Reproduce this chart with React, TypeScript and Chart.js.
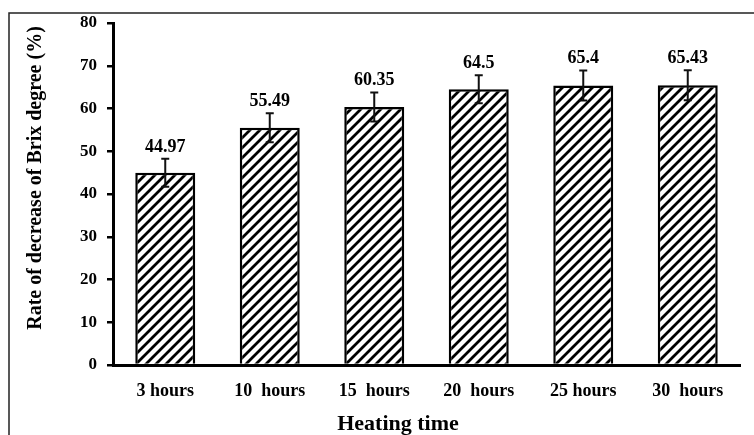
import React, { useEffect, useRef } from 'react';
import { Chart, registerables } from 'chart.js';

Chart.register(...registerables);

// Heating time categories and measured decrease of Brix degree
const categories = ['3 hours', '10  hours', '15  hours', '20  hours', '25 hours', '30  hours'];
const rates = [44.97, 55.49, 60.35, 64.5, 65.4, 65.43];
const errors = [3.3, 3.4, 3.4, 3.3, 3.5, 3.5];
const yMin = 0;
const yMax = 80;
const yStep = 10;
const yTitle = 'Rate of decrease of Brix degree (%)';
const xTitle = 'Heating time';

const FONT = "'Liberation Serif', 'Times New Roman', serif";

// Diagonal "/" hatch fill for the bars
function makeHatch(): CanvasPattern | string {
  const s = 10;
  const c = document.createElement('canvas');
  c.width = s;
  c.height = s;
  const g = c.getContext('2d');
  if (!g) return '#fff';
  g.fillStyle = '#fff';
  g.fillRect(0, 0, s, s);
  g.strokeStyle = '#000';
  g.lineWidth = 2.8;
  g.beginPath();
  for (const off of [-s, 0, s]) {
    g.moveTo(off - 1, s + 1);
    g.lineTo(off + s + 1, -1);
  }
  g.stroke();
  const p = g.createPattern(c, 'repeat');
  return p || '#fff';
}

const errorBarsAndLabels = {
  id: 'errorBarsAndLabels',
  afterDatasetsDraw(chart: any) {
    const { ctx } = chart;
    const y = chart.scales.y;
    const meta = chart.getDatasetMeta(0);
    ctx.save();
    ctx.strokeStyle = '#111';
    ctx.lineWidth = 2;
    ctx.fillStyle = '#000';
    ctx.font = `bold 18px ${FONT}`;
    ctx.textAlign = 'center';
    ctx.textBaseline = 'alphabetic';
    rates.forEach((v, i) => {
      const px = meta.data[i].x;
      const top = y.getPixelForValue(v + errors[i]);
      const bot = y.getPixelForValue(v - errors[i]);
      ctx.beginPath();
      ctx.moveTo(px, top);
      ctx.lineTo(px, bot);
      ctx.moveTo(px - 4, top);
      ctx.lineTo(px + 4, top);
      ctx.moveTo(px - 4, bot);
      ctx.lineTo(px + 4, bot);
      ctx.stroke();
      ctx.fillText(String(v), px, top - 7);
    });
    ctx.restore();
  },
};

const titlesAndFrame = {
  id: 'titlesAndFrame',
  afterDraw(chart: any) {
    const { ctx } = chart;
    ctx.save();
    // outer frame (top and left edges)
    ctx.strokeStyle = '#222';
    ctx.lineWidth = 1.5;
    ctx.beginPath();
    ctx.moveTo(754, 13);
    ctx.lineTo(9, 13);
    ctx.lineTo(9, 435);
    ctx.stroke();

    ctx.fillStyle = '#000';
    ctx.textAlign = 'center';
    ctx.font = `bold 22px ${FONT}`;
    ctx.textBaseline = 'alphabetic';
    ctx.fillText(xTitle, 398, 430);

    ctx.font = `bold 20px ${FONT}`;
    ctx.textBaseline = 'middle';
    ctx.translate(36, 178);
    ctx.rotate(-Math.PI / 2);
    ctx.fillText(yTitle, 0, 0);
    ctx.restore();
  },
};

export default function App() {
  const ref = useRef<HTMLCanvasElement | null>(null);

  useEffect(() => {
    document.body.style.margin = '0';
    const canvas = ref.current;
    if (!canvas) return;
    const chart = new Chart(canvas, {
      type: 'bar',
      data: {
        labels: categories,
        datasets: [
          {
            data: rates,
            backgroundColor: makeHatch() as any,
            borderColor: '#000',
            borderWidth: 2.5,
            barPercentage: 0.574,
            categoryPercentage: 1,
          },
        ],
      },
      options: {
        responsive: false,
        animation: false,
        devicePixelRatio: 1,
        layout: { padding: { top: 23, right: 14, left: 0, bottom: 0 } },
        plugins: {
          legend: { display: false },
          tooltip: { enabled: false },
        },
        scales: {
          x: {
            grid: { display: false },
            border: { display: true, color: '#000', width: 3 },
            ticks: {
              color: '#000',
              padding: 8,
              font: { family: FONT, size: 18, weight: 'bold' },
            },
            afterFit(scale: any) {
              scale.height = 70;
            },
          },
          y: {
            min: yMin,
            max: yMax,
            ticks: {
              stepSize: yStep,
              color: '#000',
              padding: 10,
              font: { family: FONT, size: 17, weight: 'bold' },
            },
            grid: {
              display: true,
              drawOnChartArea: false,
              drawTicks: true,
              tickLength: 6,
              color: '#000',
              lineWidth: 2.5,
            },
            border: { display: true, color: '#000', width: 3 },
            afterFit(scale: any) {
              scale.width = 113;
            },
          },
        },
      },
      plugins: [errorBarsAndLabels, titlesAndFrame],
    });
    return () => chart.destroy();
  }, []);

  return (
    <div style={{ width: 754, height: 435, background: '#fff' }}>
      <canvas ref={ref} width={754} height={435} />
    </div>
  );
}
